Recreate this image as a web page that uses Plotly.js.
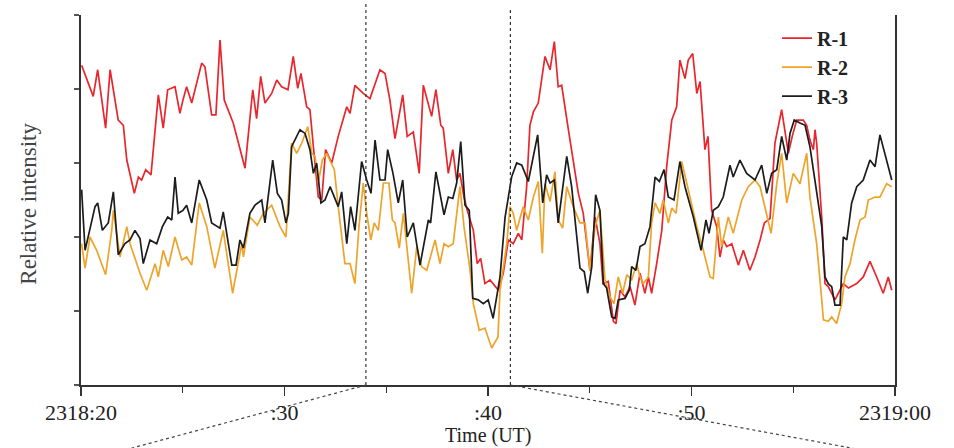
<!DOCTYPE html>
<html>
<head>
<meta charset="utf-8">
<script src="https://cdn.plot.ly/plotly-3.0.1.min.js"></script>
<style>html,body{margin:0;padding:0;background:#fff;}#chart{width:954px;height:448px;}</style>
</head>
<body>
<div id="chart"></div>
<script>
// Time in seconds after 2318:00 UT; relative intensity in arbitrary units
const r1Time = [20.03,20.60,20.82,21.21,21.43,21.83,22.08,22.25,22.62,22.82,22.98,23.18,23.44,23.80,24.04,24.26,24.62,24.86,25.01,25.19,25.44,25.93,26.09,26.42,26.63,26.83,27.04,27.48,28.06,28.44,28.63,28.83,29.04,29.37,29.62,29.86,30.17,30.43,30.65,30.81,31.09,31.25,31.42,31.66,31.83,32.02,32.32,32.64,33.06,33.22,33.46,33.87,34.20,34.69,34.94,35.18,35.43,35.81,36.03,36.33,36.62,36.82,37.23,37.44,37.68,37.80,38.05,38.27,38.46,38.62,38.82,38.98,39.28,39.47,39.64,39.85,40.10,40.34,40.51,40.75,41.00,41.24,41.49,41.66,41.90,42.06,42.23,42.47,42.80,43.05,43.26,43.45,43.62,43.95,44.19,44.44,44.68,45.01,45.26,45.50,45.65,45.91,46.16,46.29,46.49,46.73,46.98,47.22,47.47,47.71,47.88,48.04,48.29,48.54,48.78,49.03,49.27,49.43,49.68,49.84,50.06,50.26,50.42,50.66,50.81,50.99,51.24,51.40,51.56,51.73,51.98,52.30,52.55,52.87,53.12,53.37,53.58,53.86,54.10,54.43,54.76,54.95,55.17,55.49,55.66,55.82,55.99,56.07,56.15,56.40,56.56,56.72,57.05,57.30,57.46,57.71,57.87,58.12,58.44,58.77,59.10,59.42,59.67,59.84];
const r1Val = [4.32,3.90,4.26,3.47,4.26,3.58,3.51,3.04,2.59,2.81,2.77,2.91,2.84,3.92,3.47,3.99,4.03,3.67,3.85,4.03,3.81,4.35,4.30,3.65,3.65,4.66,3.85,3.54,2.93,3.99,3.60,4.17,3.81,3.94,4.12,4.03,3.99,4.44,4.01,4.21,3.76,3.72,3.22,2.54,2.50,3.18,3.00,3.36,3.76,3.67,4.05,3.94,3.87,4.26,4.21,3.85,3.33,3.92,3.36,3.42,2.86,4.05,3.63,3.99,3.51,3.47,2.86,3.18,2.77,2.86,2.54,2.36,2.09,1.64,1.71,1.37,1.42,1.33,1.28,1.51,1.96,1.91,2.05,1.96,2.68,3.51,3.69,3.81,4.44,4.26,4.64,4.03,4.05,3.45,3.04,2.59,2.32,1.55,2.27,1.91,1.37,1.40,0.86,0.83,1.28,1.19,1.33,1.08,1.51,1.24,1.46,1.24,1.64,2.09,2.95,3.58,3.76,4.39,4.14,4.39,4.48,3.94,4.10,3.18,3.36,2.36,2.14,1.73,1.96,1.87,1.91,1.62,1.82,1.55,1.73,1.96,2.19,2.25,3.27,3.72,3.13,3.36,3.58,3.58,3.51,3.31,3.18,3.45,3.27,2.27,1.37,1.33,1.15,1.28,1.37,1.31,1.33,1.37,1.46,1.67,1.46,1.24,1.46,1.28];

const r2Time = [20.03,20.20,20.44,20.77,21.21,21.51,21.59,21.92,22.25,22.41,22.90,23.23,23.64,23.80,24.04,24.29,24.62,24.95,25.19,25.44,25.81,26.18,26.58,26.99,27.45,27.90,27.98,28.30,28.66,28.96,29.37,29.78,30.07,30.35,30.60,30.85,31.14,31.34,31.50,31.66,31.86,32.07,32.45,32.64,32.97,33.22,33.46,33.66,33.87,34.04,34.24,34.41,34.61,34.86,35.13,35.30,35.43,35.64,35.84,36.25,36.50,36.74,36.99,37.40,37.64,37.84,38.05,38.29,38.62,38.82,39.12,39.28,39.57,39.85,40.18,40.49,40.59,40.92,41.08,41.24,41.41,41.73,41.98,42.23,42.47,42.67,42.80,43.05,43.29,43.45,43.67,43.87,44.19,44.52,44.77,45.01,45.26,45.50,45.75,46.00,46.19,46.40,46.62,46.82,47.06,47.31,47.47,47.63,47.88,48.04,48.21,48.45,48.61,48.86,49.03,49.24,49.52,49.84,50.26,50.58,50.81,50.91,51.07,51.32,51.48,51.81,52.05,52.47,52.79,53.12,53.37,53.61,53.91,54.19,54.43,54.68,55.00,55.33,55.66,55.82,56.15,56.40,56.48,56.72,56.89,57.13,57.38,57.54,57.79,58.03,58.28,58.53,58.69,59.02,59.26,59.59,59.84];
const r2Val = [1.91,1.58,2.00,1.82,1.49,2.09,2.36,1.73,2.14,1.91,1.51,1.28,1.64,1.46,1.82,1.60,2.00,1.69,1.73,1.62,2.46,2.14,1.58,2.09,1.24,1.91,1.73,2.27,2.16,2.32,2.43,2.14,2.00,3.27,3.13,3.27,3.49,3.13,3.09,2.73,3.04,3.13,2.91,2.41,1.64,1.64,1.37,2.14,2.73,2.32,1.96,2.19,2.09,2.73,2.73,2.23,2.19,1.85,2.32,1.24,1.87,1.60,1.55,1.96,1.64,1.91,1.87,1.91,2.68,2.14,1.55,1.10,0.74,0.77,0.50,0.65,1.28,1.91,2.41,2.32,2.09,2.41,2.23,2.54,2.75,1.78,2.72,2.48,2.88,2.23,2.12,2.68,2.41,2.19,2.19,1.55,2.14,2.36,1.42,1.19,1.10,1.46,1.24,1.49,1.42,1.64,1.46,1.37,1.46,2.19,2.46,2.32,2.50,2.19,2.39,2.32,3.02,2.64,2.14,1.82,1.55,1.46,1.44,2.27,1.87,2.27,2.05,2.50,2.68,2.77,2.68,2.41,2.05,2.72,3.13,2.46,2.86,2.72,3.13,2.54,1.91,1.15,0.88,0.86,0.92,0.83,1.10,1.46,1.64,1.96,2.23,2.27,2.50,2.54,2.54,2.72,2.68];

const r3Time = [20.03,20.20,20.69,20.82,21.05,21.34,21.59,21.83,22.16,22.41,22.65,22.90,23.06,23.39,23.72,24.00,24.26,24.46,24.62,24.78,25.01,25.19,25.44,25.81,26.18,26.42,26.83,26.99,27.41,27.62,27.81,27.98,28.30,28.55,28.88,29.04,29.42,29.65,29.86,30.07,30.19,30.35,30.76,31.01,31.25,31.42,31.58,31.79,31.99,32.24,32.64,32.81,33.06,33.25,33.46,33.79,34.04,34.25,34.45,34.69,34.94,35.07,35.33,35.59,35.81,36.03,36.33,36.66,37.07,37.18,37.44,37.84,38.05,38.27,38.46,38.66,38.87,39.08,39.25,39.52,39.77,40.01,40.25,40.59,40.84,41.16,41.41,41.66,41.98,42.18,42.44,42.69,42.88,43.05,43.26,43.45,43.87,44.11,44.52,44.73,44.90,45.10,45.29,45.50,45.67,45.83,46.08,46.24,46.40,46.73,46.94,47.06,47.27,47.47,47.71,47.96,48.21,48.42,48.65,48.86,49.14,49.43,49.68,50.09,50.47,50.71,50.86,51.07,51.32,51.56,51.89,52.05,52.38,52.71,53.12,53.45,53.70,53.94,54.19,54.43,54.68,54.84,55.05,55.33,55.58,55.82,56.15,56.40,56.56,56.72,56.89,57.05,57.30,57.46,57.63,57.87,58.12,58.44,58.77,59.02,59.26,59.59,59.84];
const r3Val = [2.64,1.82,2.41,2.46,2.09,2.19,2.61,1.76,1.91,1.96,2.09,1.98,1.64,1.96,1.91,2.14,2.27,2.23,2.81,2.32,2.36,2.43,2.19,2.77,2.50,2.19,2.12,2.34,1.62,1.62,1.96,1.85,2.32,2.43,2.50,2.19,3.04,2.59,2.50,2.19,2.32,3.22,3.45,3.40,3.18,2.86,3.00,2.46,2.50,2.68,2.41,2.61,1.91,2.41,2.09,3.02,2.77,2.59,3.31,2.77,2.77,3.18,2.86,2.46,2.77,2.00,2.19,1.62,2.23,2.19,2.88,2.30,2.54,2.52,2.73,3.29,2.43,2.36,1.17,1.15,1.10,1.15,0.90,1.46,2.27,2.81,3.00,2.97,2.75,3.04,3.38,2.46,2.84,2.73,2.77,2.19,3.09,2.68,1.58,1.53,1.24,1.60,2.57,2.36,1.37,1.31,0.92,0.90,1.15,1.17,1.28,1.60,1.55,1.87,1.91,2.14,2.81,2.75,2.91,2.54,2.50,3.02,2.68,2.27,1.82,2.23,2.05,2.36,2.41,2.54,2.97,2.81,3.04,2.86,2.77,2.97,2.59,2.86,2.91,3.36,3.04,3.40,3.58,3.54,3.51,3.22,2.59,2.14,1.46,1.37,1.33,1.08,1.08,2.00,1.96,2.46,2.68,2.77,3.04,2.95,3.38,3.04,2.77];

const seriesNames = ['R-1', 'R-2', 'R-3'];
const seriesColors = ['#e8262c', '#eea42a', '#1c1c1c'];
const tickTimes = [20, 30, 40, 50, 60];
const tickLabels = ['2318:20', ':30', ':40', ':50', '2319:00'];
const minorTimes = [25, 35, 45, 55];
const yTicks = [0, 1, 2, 3, 4, 5];
// zoomed interval marked by dotted lines, and where its guides point in the lower panel
const zoomStart = 34.0, zoomEnd = 41.1;
const guideLeftEnd = 22.2, guideRightEnd = 58.3;

const serif = 'Liberation Serif, Times New Roman, serif';
const times = [r1Time, r2Time, r3Time];
const vals = [r1Val, r2Val, r3Val];

const traces = seriesNames.map((n, i) => ({
  x: times[i], y: vals[i], name: n, type: 'scatter', mode: 'lines',
  line: {color: seriesColors[i], width: 1.7}
}));

const layout = {
  width: 954, height: 448,
  margin: {l: 81, r: 59, t: 15, b: 63},
  paper_bgcolor: '#fff', plot_bgcolor: '#fff',
  showlegend: true,
  legend: {
    x: 0.855, y: 0.99, xanchor: 'left', yanchor: 'top',
    bgcolor: 'rgba(0,0,0,0)', borderwidth: 0,
    font: {family: serif, size: 20, color: '#222', weight: 'bold'},
    tracegroupgap: 0
  },
  xaxis: {
    range: [20, 60], tickmode: 'array', tickvals: tickTimes, ticktext: tickLabels,
    ticks: 'outside', ticklen: 9, tickwidth: 1.4, tickcolor: '#333',
    ticklabelstandoff: -2,
    minor: {tickmode: 'array', tickvals: minorTimes, ticks: 'outside', ticklen: 6, tickwidth: 1.4, tickcolor: '#333'},
    showline: true, linecolor: '#333', linewidth: 1.8, mirror: false,
    showgrid: false, zeroline: false,
    tickfont: {family: serif, size: 22, color: '#222'}
  },
  yaxis: {
    range: [0, 5], tickmode: 'array', tickvals: yTicks, showticklabels: false,
    ticks: 'outside', ticklen: 5, tickwidth: 1.3, tickcolor: '#555',
    showline: true, linecolor: '#333', linewidth: 1.8, mirror: true,
    showgrid: false, zeroline: false
  },
  annotations: [
    {text: 'Relative intensity', xref: 'paper', yref: 'paper', x: 0, y: 0.49,
     xshift: -52, textangle: -90, showarrow: false, xanchor: 'center', yanchor: 'middle',
     font: {family: serif, size: 23, color: '#444'}},
    {text: 'Time (UT)', xref: 'x', yref: 'paper', x: 40, y: -0.137,
     showarrow: false, xanchor: 'center', yanchor: 'middle',
     font: {family: serif, size: 20, color: '#222'}}
  ],
  shapes: [
    {type: 'line', xref: 'x', yref: 'paper', x0: zoomStart, x1: zoomStart, y0: 0, y1: 1.035,
     line: {color: '#333', width: 1.2, dash: 'dot'}},
    {type: 'line', xref: 'x', yref: 'paper', x0: zoomEnd, x1: zoomEnd, y0: 0, y1: 1.02,
     line: {color: '#333', width: 1.2, dash: 'dot'}},
    {type: 'line', xref: 'x', yref: 'paper', x0: zoomStart, x1: guideLeftEnd, y0: 0, y1: -0.175,
     line: {color: '#444', width: 1.2, dash: 'dot'}},
    {type: 'line', xref: 'x', yref: 'paper', x0: zoomEnd, x1: guideRightEnd, y0: 0, y1: -0.175,
     line: {color: '#444', width: 1.2, dash: 'dot'}}
  ]
};

Plotly.newPlot('chart', traces, layout, {displayModeBar: false, staticPlot: true});
</script>
</body>
</html>
